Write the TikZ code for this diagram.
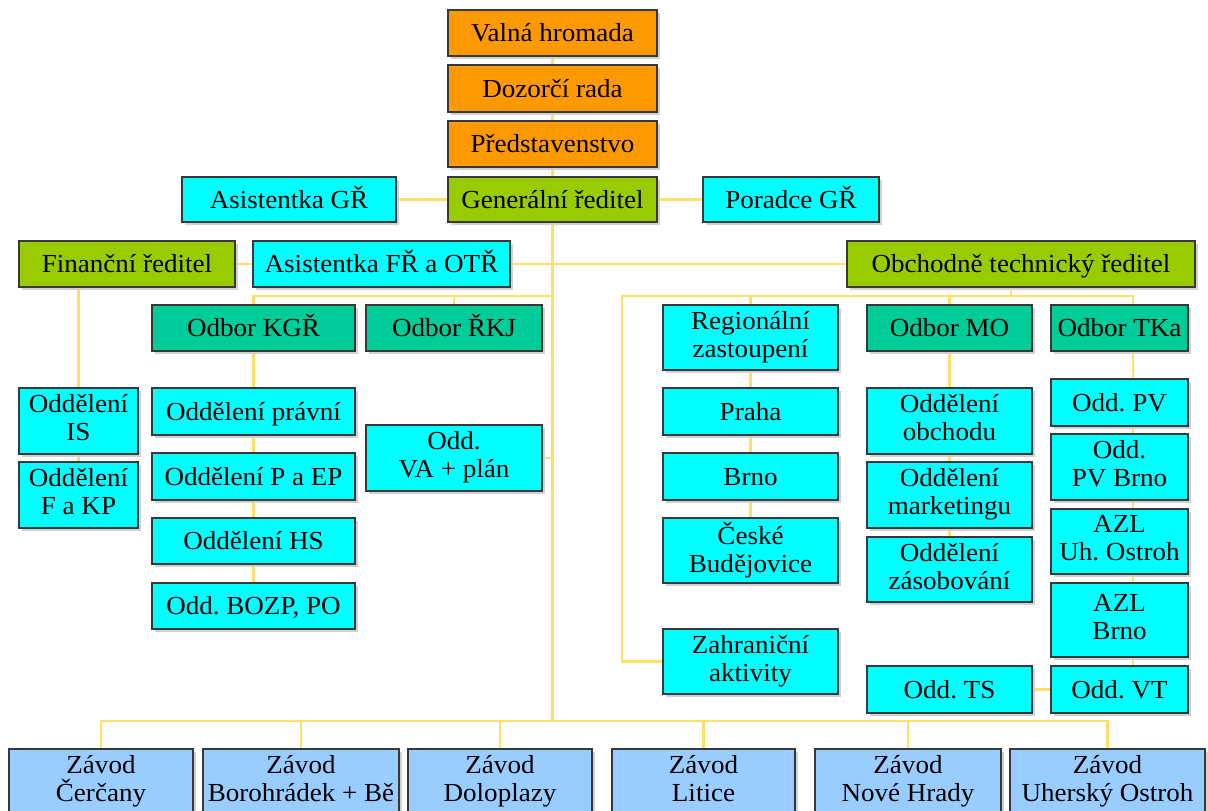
\documentclass[tikz,border=0pt]{standalone}
\usepackage{fontspec}
\setmainfont{Liberation Serif}[FakeStretch=1.04]
\usetikzlibrary{backgrounds,shadows}
\frenchspacing
\definecolor{orangebox}{HTML}{FF9900}
\definecolor{greenbox}{HTML}{99CC00}
\definecolor{cyanbox}{HTML}{00FFFF}
\definecolor{tealbox}{HTML}{00CC99}
\definecolor{bluebox}{HTML}{99CCFF}
\definecolor{linecol}{HTML}{FFDF66}
\definecolor{bordercol}{HTML}{383838}
\newcommand{\topstrut}{\rule{0pt}{24pt}}
\newcommand{\botstrut}{\rule[-6.8pt]{0pt}{6.8pt}}
\tikzset{
  box/.style={draw=bordercol, line width=1.6pt, inner sep=0pt, align=center,
    font=\fontsize{26}{28}\selectfont,
    execute at begin node=\topstrut, execute at end node=\botstrut,
    drop shadow={shadow xshift=2.5pt, shadow yshift=-2.5pt, fill=black!18, opacity=1}},
  orng/.style={box, fill=orangebox},
  grn/.style={box, fill=greenbox},
  cyn/.style={box, fill=cyanbox},
  tel/.style={box, fill=tealbox},
  blu/.style={box, fill=bluebox},
  conn/.style={draw=linecol, line width=2.8pt},
}
\newcommand{\bx}[7]{\node[#1, minimum width=#5pt, minimum height=#6pt] (#2) at (#3,#4) {#7};}
\begin{document}
\begin{tikzpicture}[x=1pt,y=-1pt]
\clip (0,0) rectangle (1208,811);
% top chain
\bx{orng}{valna}{552.5}{33}{209}{46}{Valná hromada}
\bx{orng}{dozor}{552.5}{88.5}{209}{47}{Dozorčí rada}
\bx{orng}{pred}{552.5}{144}{209}{46}{Představenstvo}
\bx{grn}{gen}{552.5}{199.5}{209}{45}{Generální ředitel}
\bx{cyn}{asgr}{289}{199.5}{214}{45}{Asistentka GŘ}
\bx{cyn}{porad}{791}{199.5}{176}{45}{Poradce GŘ}
% directors
\bx{grn}{fin}{127}{264}{216}{46}{Finanční ředitel}
\bx{cyn}{asfr}{381.5}{264}{257}{46}{Asistentka FŘ a OTŘ}
\bx{grn}{otr}{1021}{264}{348}{46}{Obchodně technický ředitel}
% left part
\bx{tel}{kgr}{253.5}{328}{203}{46}{Odbor KGŘ}
\bx{tel}{rkj}{454}{328}{176}{46}{Odbor ŘKJ}
\bx{cyn}{is}{78.5}{421}{119}{66}{Oddělení\\IS}
\bx{cyn}{fkp}{78.5}{495}{119}{66}{Oddělení\\F a KP}
\bx{cyn}{pravni}{253.5}{411.5}{203}{47}{Oddělení právní}
\bx{cyn}{paep}{253.5}{476.5}{203}{47}{Oddělení P a EP}
\bx{cyn}{hs}{253.5}{541}{203}{46}{Oddělení HS}
\bx{cyn}{bozp}{253.5}{606}{203}{46}{Odd. BOZP, PO}
\bx{cyn}{va}{454}{458}{176}{66}{Odd.\\VA + plán}
% right part
\bx{cyn}{reg}{750.5}{337.5}{175}{65}{Regionální\\zastoupení}
\bx{cyn}{praha}{750.5}{411.5}{175}{47}{Praha}
\bx{cyn}{brno}{750.5}{476.5}{175}{47}{Brno}
\bx{cyn}{cb}{750.5}{550.5}{175}{65}{České\\Budějovice}
\bx{cyn}{zahr}{750.5}{661.5}{175}{65}{Zahraniční\\aktivity}
\bx{tel}{mo}{949.5}{328}{165}{46}{Odbor MO}
\bx{cyn}{obch}{949.5}{421}{165}{66}{Oddělení\\obchodu}
\bx{cyn}{mark}{949.5}{495}{165}{66}{Oddělení\\marketingu}
\bx{cyn}{zas}{949.5}{569.5}{165}{65}{Oddělení\\zásobování}
\bx{cyn}{ts}{949.5}{689.5}{165}{47}{Odd. TS}
\bx{tel}{tka}{1119.5}{328}{137}{46}{Odbor TKa}
\bx{cyn}{pv}{1119.5}{402.5}{137}{47}{Odd. PV}
\bx{cyn}{pvbrno}{1119.5}{467}{137}{66}{Odd.\\PV Brno}
\bx{cyn}{azluh}{1119.5}{541.5}{137}{65}{AZL\\Uh. Ostroh}
\bx{cyn}{azlbrno}{1119.5}{620}{137}{74}{AZL\\Brno}
\bx{cyn}{vt}{1119.5}{689.5}{137}{47}{Odd. VT}
% plants
\bx{blu}{z1}{101}{782}{184}{66}{Závod\\Čerčany}
\bx{blu}{z2}{301}{782}{196}{66}{Závod\\Borohrádek + Bě}
\bx{blu}{z3}{500}{782}{184}{66}{Závod\\Doloplazy}
\bx{blu}{z4}{703.5}{782}{183}{66}{Závod\\Litice}
\bx{blu}{z5}{908}{782}{186}{66}{Závod\\Nové Hrady}
\bx{blu}{z6}{1107.5}{782}{195}{66}{Závod\\Uherský Ostroh}
% connectors
\coordinate (b1) at (552.5,296);
\coordinate (zb) at (552.5,721);
\coordinate (ot) at (1011,296);
\coordinate (bl) at (622,296);
\coordinate (br) at (1133,296);
\begin{scope}[on background layer]
\fill[white] (0,0) rectangle (1208,811);
\draw[conn] (valna.south) -- (dozor.north);
\draw[conn] (dozor.south) -- (pred.north);
\draw[conn] (pred.south) -- (gen.north);
\draw[conn] (asgr.east) -- (gen.west);
\draw[conn] (gen.east) -- (porad.west);
\draw[conn] (gen.south) -- (zb);
\draw[conn] (fin.east) -- (asfr.west);
\draw[conn] (asfr.east) -- (otr.west);
\draw[conn] (kgr.north) |- (b1);
\draw[conn] (rkj.north) -- (rkj.north |- b1);
\draw[conn] (is.north |- fin.south) -- (is.north);
\draw[conn] (is.south) -- (fkp.north);
\draw[conn] (kgr.south) -- (bozp.north);
\draw[conn] (va.east) -- (va.east -| zb);
\draw[conn] (otr.south -| ot) -- (ot);
\draw[conn] (zahr.west) -| (bl) -- (br) -- (br |- vt.north);
\draw[conn] (reg.north |- bl) -- (cb.north);
\draw[conn] (mo.north |- bl) -- (zas.north);
\draw[conn] (ts.east) -- (vt.west);
\draw[conn] (z1.north) -- (z1.north |- zb) -- (z6.north |- zb) -- (z6.north);
\draw[conn] (z2.north |- zb) -- (z2.north);
\draw[conn] (z3.north |- zb) -- (z3.north);
\draw[conn] (z4.north |- zb) -- (z4.north);
\draw[conn] (z5.north |- zb) -- (z5.north);
\end{scope}
\end{tikzpicture}
\end{document}
